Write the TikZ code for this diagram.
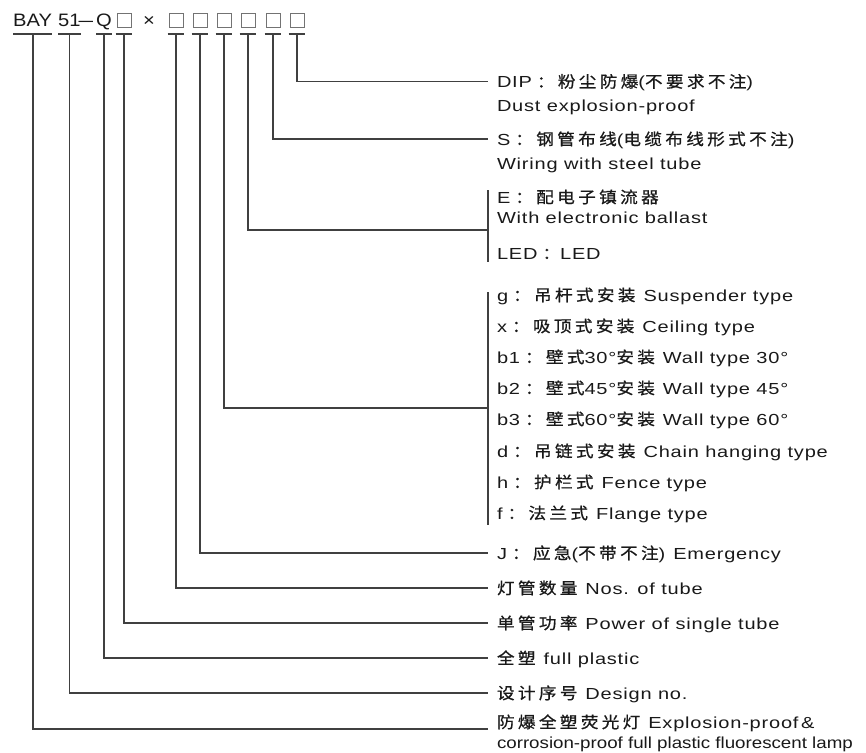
\documentclass[tikz,border=0pt]{standalone}
\usepackage{fontspec}
\setmainfont{Liberation Sans}[FakeStretch=1.25,LetterSpace=5]
\newfontfamily\cjkf{Noto Sans CJK SC}[FakeStretch=1.1,LetterSpace=21,FakeBold=0.8]
\newfontfamily\hdrf{Liberation Sans}[FakeStretch=1.12]
\newfontfamily\dashf{Liberation Sans}[FakeStretch=1.45]
\newfontfamily\tightf{Liberation Sans}[FakeStretch=1.17]
\newcommand\zh[1]{{\cjkf #1}}
\newcommand\sep{\hspace{8pt}}
\newcommand\cl{\hspace{5pt}\zh{：}}
\usetikzlibrary{calc}
\begin{document}
\begin{tikzpicture}[x=1pt,y=-1pt,
  ln/.style={draw=black!75, line width=1.1pt},
  boxm/.style={draw=black!55, line width=0.8pt, minimum width=14pt, minimum height=14pt, inner sep=0pt},
  hdr/.style={inner sep=0pt, anchor=base west, font=\hdrf\fontsize{18}{20}\selectfont, text=black!90},
  lbl/.style={anchor=west, inner sep=0pt, outer xsep=9pt, text height=14pt, text depth=2pt,
              font=\fontsize{16}{19}\selectfont, text=black!90}]
\useasboundingbox (0,0) rectangle (866,752);
% header
\node[hdr] (bay) at (13,27) {BAY};
\node[hdr] (n51) at (58,27) {51};
\node[hdr, anchor=base, font=\dashf\fontsize{18}{20}\selectfont] (dsh) at (86,27) {–};
\node[hdr] (q) at (96,27) {Q};
\node[boxm] (b0) at (124,20) {};
\node[hdr, anchor=center] (tim) at (149,21) {×};
\node[boxm] (b1) at (176,20) {};
\node[boxm] (b2) at (200,20) {};
\node[boxm] (b3) at (224,20) {};
\node[boxm] (b4) at (248,20) {};
\node[boxm] (b5) at (273,20) {};
\node[boxm] (b6) at (297,20) {};
% bars
\foreach \n in {bay,n51,q} \draw[ln] (\n.west |- 0,34) -- (\n.east |- 0,34);
\foreach \n in {b0,b1,b2,b3,b4,b5,b6} \draw[ln] ([xshift=-1pt]\n.west |- 0,34) -- ([xshift=1pt]\n.east |- 0,34);
\coordinate (tA) at (33,34);
\coordinate (tB) at (n51.center |- 0,34);
\coordinate (tC) at (q.center |- 0,34);
\foreach \n in {b0,b1,b2,b3,b4,b5,b6} \coordinate (t\n) at (\n.center |- 0,34);
% labels
\node[lbl] (dip1) at (488,81.5) {DIP\cl\zh{粉尘防爆}(\zh{不要求不注})};
\node[lbl] (dip2) at (488,105) {Dust explosion-proof};
\node[lbl] (s1) at (488,139) {S\cl\zh{钢管布线}(\zh{电缆布线形式不注})};
\node[lbl] (s2) at (488,163) {Wiring with steel tube};
\node[lbl] (e1) at (488,197) {E\cl\zh{配电子镇流器}};
\node[lbl] (e2) at (488,217) {With electronic ballast};
\node[lbl] (led) at (488,253) {LED\cl LED};
\node[lbl] (mg) at (488,295) {g\cl\zh{吊杆式安装}\sep Suspender type};
\node[lbl] (mx) at (488,326) {x\cl\zh{吸顶式安装}\sep Ceiling type};
\node[lbl] (mb1) at (488,357) {b1\cl\zh{壁式}30°\zh{安装}\sep Wall type 30°};
\node[lbl] (mb2) at (488,388) {b2\cl\zh{壁式}45°\zh{安装}\sep Wall type 45°};
\node[lbl] (mb3) at (488,419) {b3\cl\zh{壁式}60°\zh{安装}\sep Wall type 60°};
\node[lbl] (md) at (488,451) {d\cl\zh{吊链式安装}\sep Chain hanging type};
\node[lbl] (mh) at (488,482) {h\cl\zh{护栏式}\sep Fence type};
\node[lbl] (mf) at (488,513) {f\cl\zh{法兰式}\sep Flange type};
\node[lbl] (jj) at (488,553) {J\cl\zh{应急}(\zh{不带不注})\sep Emergency};
\node[lbl] (nos) at (488,588) {\zh{灯管数量}\sep Nos. of tube};
\node[lbl] (pow) at (488,623) {\zh{单管功率}\sep Power of single tube};
\node[lbl] (fp) at (488,658) {\zh{全塑}\sep full plastic};
\node[lbl] (des) at (488,693) {\zh{设计序号}\sep Design no.};
\node[lbl] (ex1) at (488,722) {\zh{防爆全塑荧光灯}\sep Explosion-proof\,\&};
\node[lbl, font=\tightf\fontsize{16}{19}\selectfont] (ex2) at (488,742) {corrosion-proof full plastic fluorescent lamp};
% brackets
\coordinate (eT) at (e1.west |- 0,190);
\coordinate (eB) at (e1.west |- 0,262);
\coordinate (eM) at (e1.west |- 0,230);
\draw[ln] (eT) -- (eB);
\coordinate (mT) at (mg.west |- 0,292);
\coordinate (mB) at (mg.west |- 0,525);
\coordinate (mM) at (mg.west |- 0,408);
\draw[ln] (mT) -- (mB);
% connectors
\draw[ln] (tb6) |- (dip1.west);
\draw[ln] (tb5) |- (s1.west);
\draw[ln] (tb4) |- (eM);
\draw[ln] (tb3) |- (mM);
\draw[ln] (tb2) |- (jj.west);
\draw[ln] (tb1) |- (nos.west);
\draw[ln] (tb0) |- (pow.west);
\draw[ln] (tC) |- (fp.west);
\draw[ln] (tB) |- (des.west);
\draw[ln] (tA) |- ([yshift=-7pt]ex1.west);
\end{tikzpicture}
\end{document}
